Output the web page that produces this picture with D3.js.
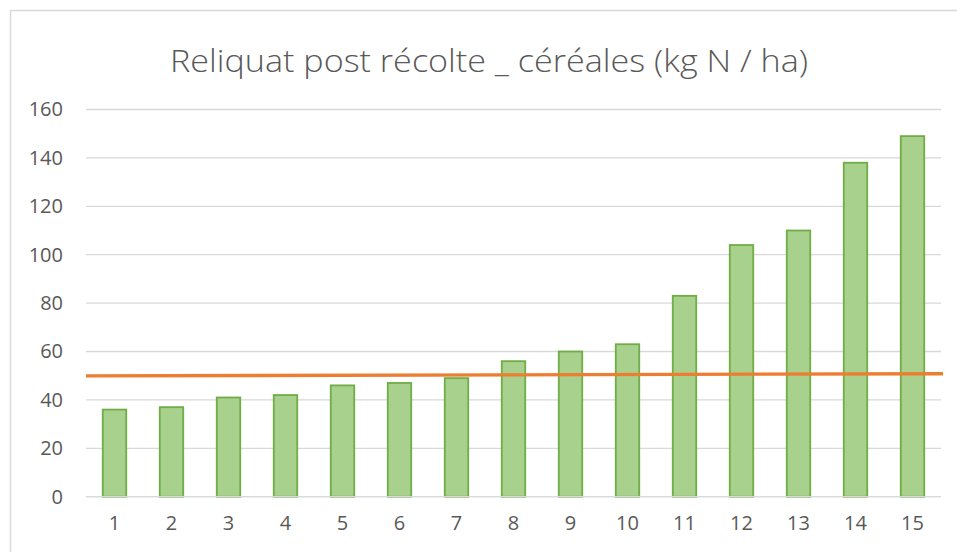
<!DOCTYPE html>
<html>
<head>
<meta charset="utf-8">
<script src="https://cdn.jsdelivr.net/npm/d3@7"></script>
<style>
  body { margin: 0; background: #fff; }
  svg { display: block; font-family: 'Open Sans', sans-serif; }
</style>
</head>
<body>
<svg id="canvas" width="957" height="552"></svg>
<script>
let titleText = 'Reliquat post récolte _ céréales (kg N / ha)';
let categories = ['1', '2', '3', '4', '5', '6', '7', '8', '9', '10', '11', '12', '13', '14', '15'];
let reliquat = [36, 37, 41, 42, 46, 47, 49, 56, 60, 63, 83, 104, 110, 138, 149];
let refLine = [49.9, 50.8];
let yTicks = [0, 20, 40, 60, 80, 100, 120, 140, 160];

let canvas = d3.select('#canvas');

let plotLeft = 86, plotRight = 941, plotTop = 109.5, plotBottom = 496.7;

// chart frame
canvas.append('rect')
  .attr('x', 10.5).attr('y', 10.5)
  .attr('width', 1000).attr('height', 1000)
  .attr('fill', 'none')
  .attr('stroke', '#d9d9d9')
  .attr('stroke-width', 1.5);

let xScale = d3.scaleBand()
  .domain(categories)
  .range([plotLeft, plotRight])
  .paddingInner(0.588)
  .paddingOuter(0.294);

let yScale = d3.scaleLinear()
  .domain([0, 160])
  .range([plotBottom, plotTop]);

// gridlines
canvas.append('g')
  .selectAll('line')
  .data(yTicks)
  .enter()
  .append('line')
  .attr('x1', plotLeft).attr('x2', plotRight)
  .attr('y1', d => yScale(d)).attr('y2', d => yScale(d))
  .attr('stroke', '#d9d9d9')
  .attr('stroke-width', 1.3);

// y labels
let yAxis = d3.axisLeft(yScale).tickValues(yTicks).tickSize(0).tickPadding(23);
let yG = canvas.append('g').attr('transform', 'translate(' + plotLeft + ',0)').call(yAxis);
yG.select('.domain').remove();
yG.selectAll('text')
  .attr('fill', '#595959')
  .style('font-size', '20px')
  .style('font-family', 'Open Sans, sans-serif');

// x labels
let xAxis = d3.axisBottom(xScale).tickSize(0).tickPadding(19);
let xG = canvas.append('g').attr('transform', 'translate(0,' + plotBottom + ')').call(xAxis);
xG.select('.domain').remove();
xG.selectAll('text')
  .attr('fill', '#595959')
  .style('font-size', '20px')
  .style('font-family', 'Open Sans, sans-serif');

// bars
canvas.append('g')
  .selectAll('rect')
  .data(reliquat)
  .enter()
  .append('rect')
  .attr('x', (d, i) => xScale(categories[i]))
  .attr('y', d => yScale(d))
  .attr('width', xScale.bandwidth())
  .attr('height', d => plotBottom - yScale(d))
  .attr('fill', '#a9d18e')
  .attr('stroke', '#70ad47')
  .attr('stroke-width', 1.8);

// baseline over bars
canvas.append('line')
  .attr('x1', plotLeft).attr('x2', plotRight)
  .attr('y1', yScale(0)).attr('y2', yScale(0))
  .attr('stroke', '#d9d9d9')
  .attr('stroke-width', 1.3);

// orange reference line
let refX = d3.scalePoint().domain(['start', 'end']).range([plotLeft, plotRight + 2]);
canvas.append('path')
  .datum(refLine)
  .attr('d', d3.line()
    .x((d, i) => refX(i === 0 ? 'start' : 'end'))
    .y(d => yScale(d)))
  .attr('fill', 'none')
  .attr('stroke', '#ed7d31')
  .attr('stroke-width', 3.3);

// title
canvas.append('text')
  .attr('x', 489)
  .attr('y', 71.5)
  .attr('text-anchor', 'middle')
  .attr('fill', '#595959')
  .attr('textLength', 638)
  .attr('lengthAdjust', 'spacingAndGlyphs')
  .style('font-size', '32px')
  .style('font-weight', 300)
  .text(titleText);
</script>
</body>
</html>
